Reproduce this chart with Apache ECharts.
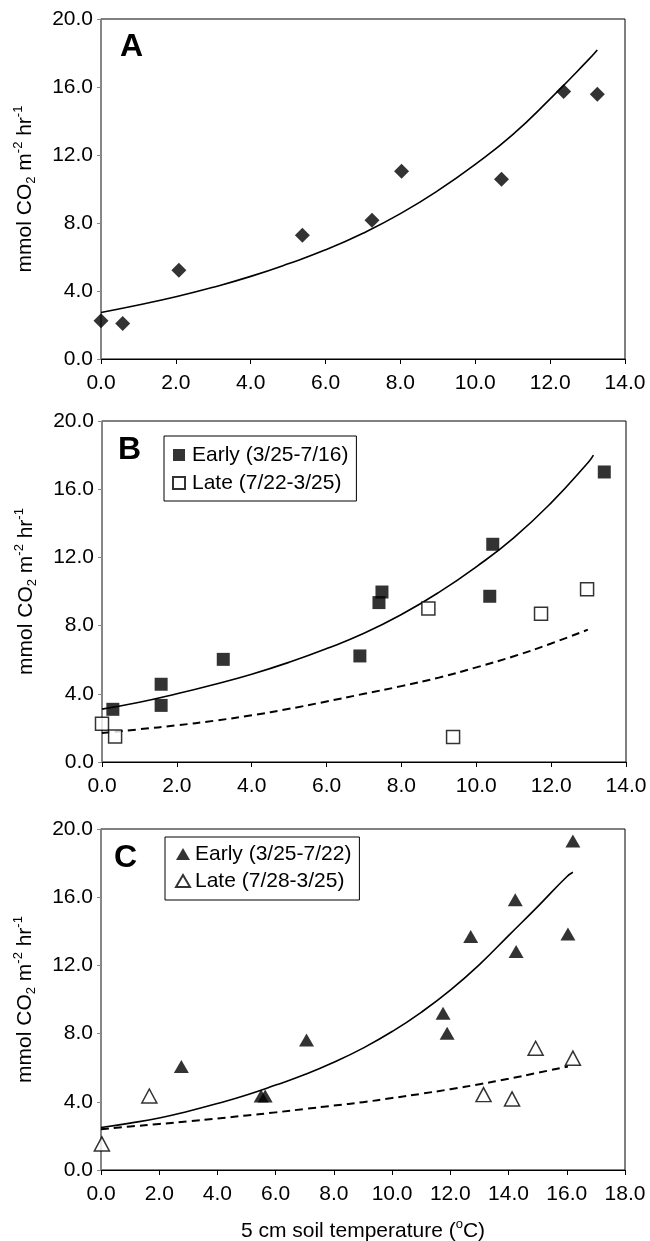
<!DOCTYPE html>
<html>
<head>
<meta charset="utf-8">
<title>Soil CO2 flux vs temperature</title>
<script src="https://cdn.jsdelivr.net/npm/echarts@6/dist/echarts.min.js"></script>
<style>
  html, body { margin: 0; padding: 0; background: #fff; }
  #chart { width: 650px; height: 1241px; }
</style>
</head>
<body>
<div id="chart"></div>
<script>
  'use strict';

  // panel A: all data
  const aPoints = [[0.0,2.25],[0.58,2.09],[2.08,5.22],[5.38,7.28],[7.24,8.16],[8.03,11.04],[10.70,10.57],[12.36,15.73],[13.26,15.58]];
  const aFit = [[0,2.74],[1,3.18],[2,3.66],[3,4.22],[4,4.86],[5,5.6],[6,6.42],[7,7.4],[8,8.55],[9,9.9],[10,11.45],[11,13.2],[12,15.3],[13,17.55],[13.26,18.18]];

  // panel B
  const bEarlyName = 'Early (3/25-7/16)';
  const bLateName = 'Late (7/22-3/25)';
  const bEarly = [[0.29,3.09],[1.58,4.56],[1.58,3.32],[3.24,6.02],[6.89,6.22],[7.40,9.35],[7.48,9.97],[10.36,9.72],[10.44,12.77],[13.42,17.01]];
  const bLate = [[0.0,2.25],[0.35,1.49],[8.72,9.01],[9.38,1.47],[11.73,8.70],[12.96,10.13]];
  const bEarlyFit = [[0,3.1],[1,3.5],[2,4.0],[3,4.55],[4,5.15],[5,5.85],[6,6.65],[7,7.55],[8,8.65],[9,9.95],[10,11.45],[11,13.15],[12,15.2],[13,17.6],[13.13,18.0]];
  const bLateFit = [[0,1.7],[1,1.92],[2,2.15],[3,2.42],[4,2.74],[5,3.12],[6,3.55],[7,4.0],[8,4.45],[9,4.95],[10,5.55],[11,6.2],[12,6.95],[12.98,7.76]];

  // panel C
  const cEarlyName = 'Early (3/25-7/22)';
  const cLateName = 'Late (7/28-3/25)';
  const cEarly = [[2.76,6.07],[5.50,4.34],[5.64,4.34],[7.06,7.63],[11.75,9.20],[11.89,8.02],[12.70,13.70],[14.23,15.85],[14.26,12.82],[16.04,13.84],[16.21,19.30]];
  const cLate = [[0.03,1.53],[1.66,4.34],[13.14,4.42],[14.12,4.17],[14.93,7.14],[16.21,6.56]];
  const cEarlyFit = [[0,2.49],[1,2.75],[2,3.05],[3,3.45],[4,3.9],[5,4.4],[6,4.98],[7,5.6],[8,6.32],[9,7.15],[10,8.12],[11,9.25],[12,10.55],[13,12.05],[14,13.75],[15,15.45],[16,17.2],[16.21,17.46]];
  const cLateFit = [[0,2.39],[1,2.55],[2,2.7],[3,2.85],[4,3.02],[5,3.2],[6,3.38],[7,3.58],[8,3.78],[9,3.98],[10,4.22],[11,4.47],[12,4.74],[13,5.03],[14,5.35],[15,5.7],[16.04,6.07]];

  const xMax = [14, 14, 18];
  const panelLetters = ['A', 'B', 'C'];
  const yName = 'mmol CO{sub|2} m{sup|-2} hr{sup|-1}';
  const xName = '5 cm soil temperature ({sup|o}C)';

  const FONT = '"Liberation Sans", Arial, Helvetica, sans-serif';
  const grids = [
    { left: 101, right: 25, top: 19, height: 340 },
    { left: 102, right: 24, top: 421, height: 341 },
    { left: 101, right: 25, top: 829, height: 341 }
  ];
  const letterPos = [[120, 31], [118, 434], [114, 842]];

  const rich = {
    sub: { fontSize: 13, fontFamily: FONT, color: '#000', verticalAlign: 'bottom' },
    sup: { fontSize: 13, fontFamily: FONT, color: '#000', verticalAlign: 'top' }
  };

  function fmt(v){ return v.toFixed(1); }

  function xAxisFor(i){
    return {
      gridIndex: i, type: 'value', min: 0, max: xMax[i], interval: 2,
      axisLine: { show: true, onZero: false, lineStyle: { color: '#000', width: 1 } },
      axisTick: { show: true, length: 5, lineStyle: { color: '#000' } },
      axisLabel: { formatter: fmt, fontSize: 21, color: '#000', fontFamily: FONT, margin: 14 },
      splitLine: { show: false },
      name: i === 2 ? xName : '',
      nameLocation: 'middle', nameGap: 48,
      nameTextStyle: { fontSize: 21, color: '#000', fontFamily: FONT, lineHeight: 26, rich: rich }
    };
  }

  function yAxisFor(i){
    return {
      gridIndex: i, type: 'value', min: 0, max: 20, interval: 4,
      axisLine: { show: true, onZero: false, lineStyle: { color: '#888', width: 1.5 } },
      axisTick: { show: true, length: 4, lineStyle: { color: '#888' } },
      axisLabel: { formatter: fmt, fontSize: 21, color: '#000', fontFamily: FONT, margin: 8 },
      splitLine: { show: false },
      name: yName,
      nameLocation: 'middle', nameGap: 63,
      nameTextStyle: { fontSize: 21, color: '#000', fontFamily: FONT, lineHeight: 26, rich: rich }
    };
  }

  function scatter(name, data, idx, symbol, size, filled){
    return {
      name: name, type: 'scatter', xAxisIndex: idx, yAxisIndex: idx,
      data: data, symbol: symbol, symbolSize: size, z: 4,
      itemStyle: { color: filled ? '#000' : '#fff', borderColor: '#000', borderWidth: filled ? 0 : 1.5 },
      emphasis: { disabled: true }
    };
  }

  function fitLine(data, idx, dashed){
    return {
      type: 'line', xAxisIndex: idx, yAxisIndex: idx, data: data,
      showSymbol: false, smooth: true, z: 3,
      lineStyle: { color: '#000', width: dashed ? 2 : 1.6, type: dashed ? [8, 5] : 'solid' },
      emphasis: { disabled: true }
    };
  }

  const legendText = { fontSize: 21, color: '#000', fontFamily: FONT, lineHeight: 22 };

  const option = {
    animation: false,
    backgroundColor: '#fff',
    title: panelLetters.map((t, i)=>({
      text: t, left: letterPos[i][0], top: letterPos[i][1], padding: 0,
      textStyle: { fontSize: 32, fontWeight: 'bold', color: '#000', fontFamily: FONT }
    })),
    legend: [
      {
        data: [bEarlyName, bLateName], orient: 'vertical', left: 164, top: 436,
        padding: [8, 8, 7, 8], itemGap: 6, itemWidth: 12, itemHeight: 12,
        borderColor: '#000', borderWidth: 1, selectedMode: false,
        textStyle: Object.assign({ padding: [0, 0, 0, 2] }, legendText)
      },
      {
        data: [cEarlyName, cLateName], orient: 'vertical', left: 165, top: 837,
        padding: [6, 8, 8, 10], itemGap: 5, itemWidth: 14, itemHeight: 12,
        symbolKeepAspect: false,
        borderColor: '#000', borderWidth: 1, selectedMode: false,
        textStyle: legendText
      }
    ],
    grid: grids.map((g)=>Object.assign({
      show: true, borderColor: '#000', borderWidth: 1, backgroundColor: 'transparent',
      outerBoundsMode: 'none', containLabel: false
    }, g)),
    xAxis: [0, 1, 2].map(xAxisFor),
    yAxis: [0, 1, 2].map(yAxisFor),
    series: [
      fitLine(aFit, 0, false),
      scatter('A data', aPoints, 0, 'diamond', 15, true),
      fitLine(bEarlyFit, 1, false),
      fitLine(bLateFit, 1, true),
      scatter(bEarlyName, bEarly, 1, 'rect', 13, true),
      scatter(bLateName, bLate, 1, 'rect', 13, false),
      fitLine(cEarlyFit, 2, false),
      fitLine(cLateFit, 2, true),
      scatter(cEarlyName, cEarly, 2, 'triangle', [15, 13], true),
      scatter(cLateName, cLate, 2, 'triangle', [15, 14], false)
    ]
  };

  const chart = echarts.init(document.getElementById('chart'), null, { renderer: 'canvas' });
  chart.setOption(option);
</script>
</body>
</html>
